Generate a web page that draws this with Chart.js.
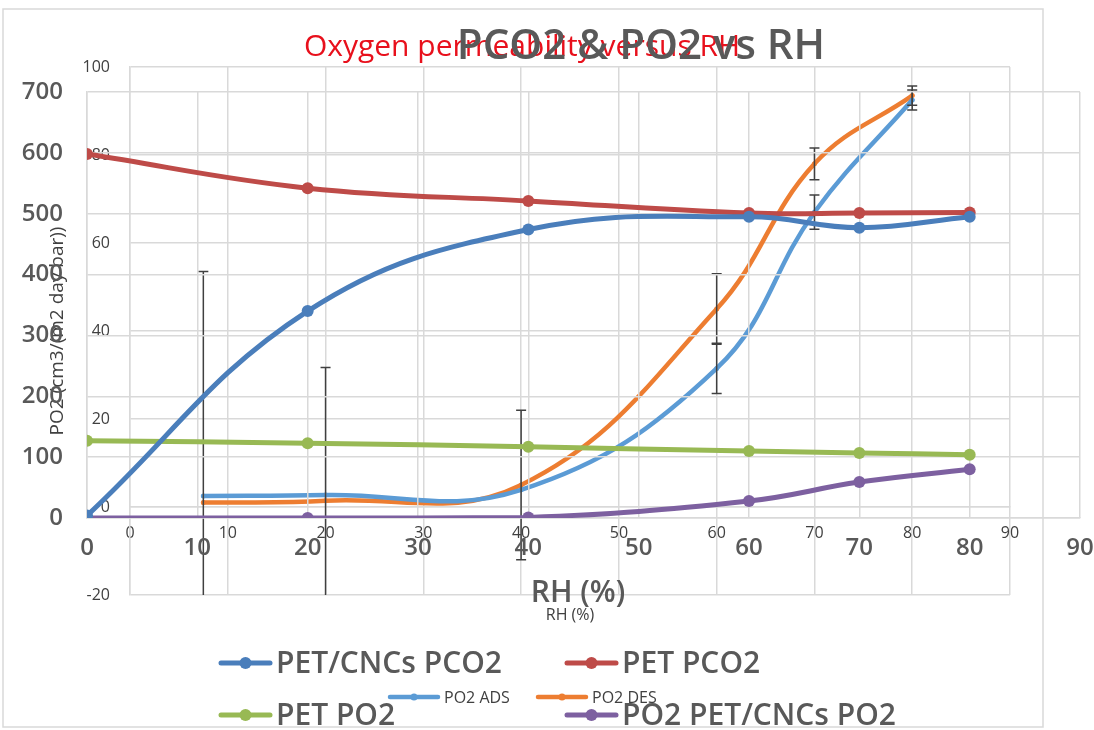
<!DOCTYPE html>
<html>
<head>
<meta charset="utf-8">
<script src="https://cdn.jsdelivr.net/npm/chart.js@4.4.1/dist/chart.umd.min.js"></script>
<style>
  html, body { margin: 0; padding: 0; background: #fff; }
  #wrap { position: relative; width: 1094px; height: 730px; overflow: hidden; }
  #wrap canvas { position: absolute; left: 0; top: 0; }
</style>
</head>
<body>
<div id="wrap">
  <canvas id="smallChart" width="1094" height="730"></canvas>
  <canvas id="bigChart" width="1094" height="730"></canvas>
</div>
<script>
// front chart: PCO2 & PO2 vs RH
const rh = [0, 20, 40, 60, 70, 80];
const petCncPCO2 = [4, 340, 474, 495, 477, 495];
const petPCO2 = [598, 542, 521, 501, 501, 502];
const petPO2 = [127, 123, 117, 110, 107, 104];
const petCncPO2 = [0, 0, 1, 28, 59, 80];

// back chart: Oxygen permeability versus RH
const rhSmall = [7.5, 20, 40, 60, 70, 80];
const po2Ads = [2.5, 2.7, 3.9, 31.5, 67, 92.5];
const po2Des = [1, 1.4, 5, 45, 78, 93.5];
const po2AdsErr = [51, 29, 0, 5.7, 3.9, 2.3];
const po2DesErr = [0, 0, 17, 8, 3.6, 2.2];

// tick labels
const rhTicks = [0, 10, 20, 30, 40, 50, 60, 70, 80, 90];
const bigYTicks = [0, 100, 200, 300, 400, 500, 600, 700];
const smallYTicks = [-20, 0, 20, 40, 60, 80, 100];

Chart.defaults.font.family = "'Open Sans', sans-serif";

function toXY(xs, ys) {
  return xs.map((x, i) => ({ x: x, y: ys[i] }));
}
function fixTicks(list) {
  return function (scale) { scale.ticks = list.map(v => ({ value: v })); };
}

// error bars, drawn through the scales
const errorBars = {
  id: 'errorBars',
  afterDatasetsDraw(chart) {
    const { ctx, chartArea, scales: { x, y } } = chart;
    ctx.save();
    ctx.beginPath();
    ctx.rect(chartArea.left, chartArea.top, chartArea.width, chartArea.height);
    ctx.clip();
    ctx.strokeStyle = '#404040';
    ctx.lineWidth = 1.5;
    chart.data.datasets.forEach(ds => {
      if (!ds.errors) return;
      ds.data.forEach((p, i) => {
        const e = ds.errors[i];
        if (!e) return;
        const px = x.getPixelForValue(p.x);
        const top = y.getPixelForValue(p.y + e);
        const bot = y.getPixelForValue(p.y - e);
        ctx.beginPath();
        ctx.moveTo(px, top); ctx.lineTo(px, bot);
        ctx.moveTo(px - 5, top); ctx.lineTo(px + 5, top);
        ctx.moveTo(px - 5, bot); ctx.lineTo(px + 5, bot);
        ctx.stroke();
      });
    });
    ctx.restore();
  }
};

// white page + outline for the back chart
const backdrop = {
  id: 'backdrop',
  beforeDraw(chart, args, opts) {
    if (!opts.fill) return;
    const ctx = chart.ctx;
    ctx.save();
    ctx.fillStyle = '#fff';
    ctx.fillRect(0, 0, chart.width, chart.height);
    ctx.strokeStyle = '#d9d9d9';
    ctx.lineWidth = 1.5;
    ctx.strokeRect(3, 9, 1040, 718);
    ctx.restore();
  }
};

// titles, axis titles and legends
const textLayer = {
  id: 'textLayer',
  afterDraw(chart, args, opts) {
    const ctx = chart.ctx;
    ctx.save();
    ctx.textBaseline = 'middle';
    (opts.texts || []).forEach(t => {
      ctx.font = t.font;
      ctx.fillStyle = t.color;
      ctx.textAlign = 'center';
      ctx.fillText(t.text, t.x, t.y);
    });
    const lg = opts.legend;
    if (lg) {
      lg.spots.forEach((s, i) => {
        const ds = chart.data.datasets[i];
        ctx.strokeStyle = ds.borderColor;
        ctx.fillStyle = ds.borderColor;
        ctx.lineWidth = lg.lineWidth;
        ctx.lineCap = 'round';
        ctx.beginPath();
        ctx.moveTo(s[0], s[1]);
        ctx.lineTo(s[0] + lg.len, s[1]);
        ctx.stroke();
        ctx.beginPath();
        ctx.arc(s[0] + lg.len / 2, s[1], lg.dot, 0, Math.PI * 2);
        ctx.fill();
        ctx.font = lg.font;
        ctx.fillStyle = lg.color;
        ctx.textAlign = 'left';
        ctx.fillText(ds.label, s[0] + lg.len + lg.gap, s[1] + 1);
      });
    }
    ctx.restore();
  }
};

// ---- back chart ----
new Chart(document.getElementById('smallChart'), {
  type: 'line',
  data: {
    datasets: [
      { label: 'PO2 ADS', data: toXY(rhSmall, po2Ads), errors: po2AdsErr,
        borderColor: '#5b9bd5', backgroundColor: '#5b9bd5' },
      { label: 'PO2 DES', data: toXY(rhSmall, po2Des), errors: po2DesErr,
        borderColor: '#ed7d31', backgroundColor: '#ed7d31' }
    ]
  },
  options: {
    responsive: false,
    animation: false,
    devicePixelRatio: 1,
    layout: { padding: { left: 0, top: 67, right: 84, bottom: 135 } },
    elements: {
      line: { borderWidth: 4.5, tension: 0.4, borderCapStyle: 'round' },
      point: { radius: 2.5, borderWidth: 0, hoverRadius: 2.5 }
    },
    scales: {
      x: {
        type: 'linear', position: { y: 0 }, min: 0, max: 90,
        afterBuildTicks: fixTicks(rhTicks),
        afterFit(s) { s.height = 0; s.paddingLeft = 0; s.paddingRight = 0; },
        grid: { color: '#d9d9d9', lineWidth: 1.5, drawTicks: false },
        border: { color: '#d9d9d9', width: 1.5 },
        ticks: { padding: 17, font: { size: 16 }, color: '#404040' }
      },
      y: {
        min: -20, max: 100,
        afterBuildTicks: fixTicks(smallYTicks),
        afterFit(s) { s.width = 130; s.paddingTop = 0; s.paddingBottom = 0; },
        grid: { color: '#d9d9d9', lineWidth: 1.5, drawTicks: false },
        border: { color: '#d9d9d9', width: 1.5 },
        ticks: { padding: 20, font: { size: 16 }, color: '#404040' },
        title: { display: true, text: 'PO2 (cm3/(m2 day bar))', color: '#404040',
          font: { size: 19 }, padding: { top: 46, bottom: 0 } }
      }
    },
    plugins: {
      legend: { display: false },
      tooltip: { enabled: false },
      backdrop: { fill: true },
      textLayer: {
        texts: [
          { text: 'Oxygen permeability versus RH', x: 522, y: 47, font: "30px 'Open Sans'", color: '#e8101c' },
          { text: 'RH (%)', x: 570, y: 615, font: "16px 'Open Sans'", color: '#404040' }
        ],
        legend: { spots: [[390, 697], [538, 697]], len: 48, gap: 6, lineWidth: 4.5, dot: 3.5,
          font: "16px 'Open Sans'", color: '#404040' }
      }
    }
  },
  plugins: [backdrop, errorBars, textLayer]
});

// ---- front chart ----
new Chart(document.getElementById('bigChart'), {
  type: 'line',
  data: {
    datasets: [
      { label: 'PET/CNCs PCO2', data: toXY(rh, petCncPCO2), borderColor: '#4a7ebb', backgroundColor: '#4a7ebb' },
      { label: 'PET PCO2', data: toXY(rh, petPCO2), borderColor: '#be4b48', backgroundColor: '#be4b48' },
      { label: 'PET PO2', data: toXY(rh, petPO2), borderColor: '#98b954', backgroundColor: '#98b954' },
      { label: 'PO2 PET/CNCs PO2', data: toXY(rh, petCncPO2), borderColor: '#7d60a0', backgroundColor: '#7d60a0' }
    ]
  },
  options: {
    responsive: false,
    animation: false,
    devicePixelRatio: 1,
    layout: { padding: { left: 0, top: 92, right: 14, bottom: 212 } },
    elements: {
      line: { borderWidth: 5, tension: 0.4, borderCapStyle: 'round' },
      point: { radius: 6, borderWidth: 0, hoverRadius: 6 }
    },
    scales: {
      x: {
        type: 'linear', position: { y: 0 }, min: 0, max: 90,
        afterBuildTicks: fixTicks(rhTicks),
        afterFit(s) { s.height = 0; s.paddingLeft = 0; s.paddingRight = 0; },
        grid: { color: '#d9d9d9', lineWidth: 1.5, drawTicks: false },
        border: { color: '#d9d9d9', width: 1.5 },
        ticks: { padding: 16, font: { size: 24, weight: '600' }, color: '#595959' }
      },
      y: {
        min: 0, max: 700,
        afterBuildTicks: fixTicks(bigYTicks),
        afterFit(s) { s.width = 87; s.paddingTop = 0; s.paddingBottom = 0; },
        grid: { color: '#d9d9d9', lineWidth: 1.5, drawTicks: false },
        border: { color: '#d9d9d9', width: 1.5 },
        ticks: { padding: 24, font: { size: 24, weight: '600' }, color: '#595959' }
      }
    },
    plugins: {
      legend: { display: false },
      tooltip: { enabled: false },
      textLayer: {
        texts: [
          { text: 'PCO2 & PO2 vs RH', x: 641, y: 47, font: "600 42px 'Open Sans'", color: '#595959' },
          { text: 'RH (%)', x: 578, y: 593, font: "600 30px 'Open Sans'", color: '#595959' }
        ],
        legend: { spots: [[221, 663], [567, 663], [221, 715], [567, 715]], len: 49, gap: 6, lineWidth: 5, dot: 6,
          font: "600 30px 'Open Sans'", color: '#595959' }
      }
    }
  },
  plugins: [errorBars, textLayer]
});
</script>
</body>
</html>
